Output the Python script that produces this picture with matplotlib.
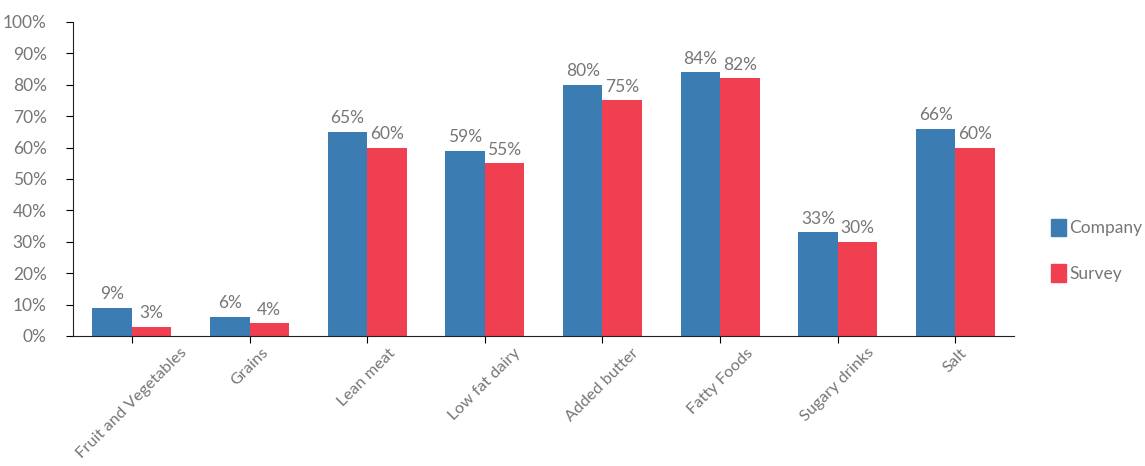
import matplotlib
matplotlib.use("Agg")
import matplotlib.pyplot as plt
import numpy as np
from matplotlib.patches import Patch
from matplotlib.ticker import FuncFormatter, MultipleLocator

categories = ["Fruit and Vegetables", "Grains", "Lean meat", "Low fat dairy",
              "Added butter", "Fatty Foods", "Sugary drinks", "Salt"]
company = [9, 6, 65, 59, 80, 84, 33, 66]
survey = [3, 4, 60, 55, 75, 82, 30, 60]
series_names = ["Company", "Survey"]

blue = "#3b7cb3"
red = "#ef3f51"
grey = "#767676"
fs = 12.5

plt.rcParams['font.family'] = ['Lato', 'DejaVu Sans']

fig = plt.figure(figsize=(11.45, 4.66), dpi=100)
ax = fig.add_axes([0.0638, 0.279, 0.822, 0.674])

x = np.arange(len(categories))
w = 0.335
b1 = ax.bar(x - w/2, company, w, color=blue)
b2 = ax.bar(x + w/2, survey, w, color=red)

for bars, vals in ((b1, company), (b2, survey)):
    for r, v in zip(bars, vals):
        ax.text(r.get_x() + r.get_width()/2, v + 1.8, f"{v}%", ha="center", va="bottom",
                fontsize=fs, color=grey)

ax.set_xlim(-0.5, len(categories) - 0.5)
ax.set_ylim(0, 100)
ax.yaxis.set_major_locator(MultipleLocator(10))
ax.yaxis.set_major_formatter(FuncFormatter(lambda v, p: f"{int(v)}%"))
ax.set_xticks(x)
ax.set_xticklabels(categories, rotation=45, ha="center", va="top",
                   fontsize=11.8, color=grey)
for s in ("top", "right"):
    ax.spines[s].set_visible(False)
ax.spines["left"].set_color("#222222")
ax.spines["bottom"].set_color("#222222")
ax.tick_params(axis="y", labelsize=fs, labelcolor=grey, length=5, direction="out", pad=14)
ax.tick_params(axis="x", length=5, direction="out", pad=2)

handles = [Patch(color=blue), Patch(color=red)]
fig.legend(handles, series_names, loc="center left", bbox_to_anchor=(0.904, 0.463),
           frameon=False, fontsize=fs, labelcolor=grey, handlelength=0.9, handleheight=1.2,
           handletextpad=0.15, labelspacing=1.6)

fig.savefig("out.png", dpi=100)
